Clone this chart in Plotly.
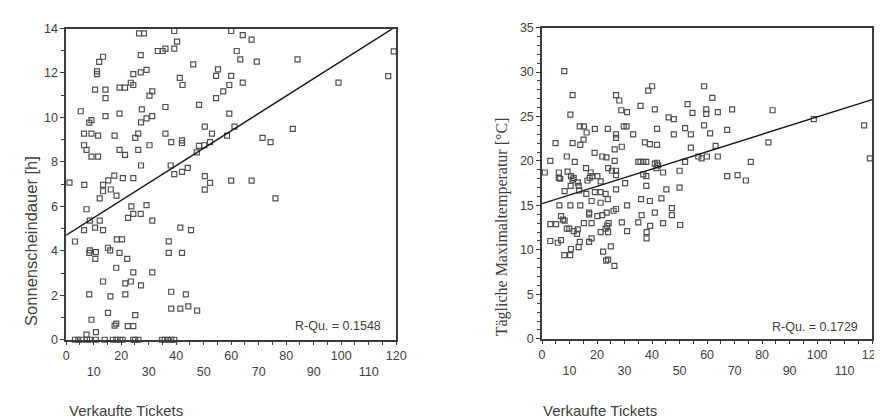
import plotly.graph_objects as go

W, H = 882, 419

# ---------------- data ----------------
left_x = [1.2, 5.3, 6.5, 6.5, 7.4, 9.2, 11.6, 8.4, 9.2, 9.2, 11.6, 6.6, 7.4, 11.2, 11.2, 12.0, 13.4, 10.5,
          14.3, 14.3, 14.3, 12.2, 13.4, 15.3, 17.5, 20.6, 24.4, 13.4, 16.2, 18.3, 17.6, 19.4, 19.4, 21.4,
          19.4, 21.4, 23.5, 24.4, 24.4, 26.5, 28.3, 27.1, 27.1, 29.2, 27.5, 27.2, 29.2, 31.3, 31.3, 30.3,
          25.1, 26.2, 26.2, 30.3, 27.2, 23.7, 29.2, 33.3, 35.1, 36.1, 39.3, 40.3, 39.3, 36.1, 36.1, 38.2,
          42.1, 42.1, 38.0, 39.3, 42.1, 44.2, 41.3, 42.3, 46.2, 47.5, 48.3, 50.4, 48.3, 50.4, 50.4,
          60.0, 64.2, 67.4, 62.0, 63.3, 69.3, 84.1, 55.2, 54.5, 60.0, 59.3, 57.1, 64.2, 54.5, 99.0, 59.3,
          53.0, 61.2, 58.5, 82.4, 71.4, 74.3, 50.2, 52.3, 52.3, 60.0, 67.4, 76.1, 117.1, 119.1,
          3.2, 4.4, 5.6, 7.6, 8.6, 10.8, 14.0, 17.0, 18.2, 19.6, 20.5, 24.4, 25.1, 26.3, 34.9, 35.8, 37.0,
          38.2, 39.3,
          3.2, 6.5, 8.6, 10.5, 12.2, 13.4, 8.6, 8.4, 10.8, 10.6, 15.2, 16.0, 18.4, 20.3, 19.4, 22.2, 13.4,
          18.2, 24.4, 31.3, 21.5, 23.5, 27.2, 8.4, 16.1, 21.5, 15.2, 25.1, 9.2, 18.2, 17.6, 22.4, 24.4,
          7.4, 10.8, 22.5, 24.4, 27.1, 31.3, 37.3, 37.3, 42.1, 41.5, 45.4, 38.2, 43.5, 38.2, 41.5, 44.4,
          47.6]
left_y = [7.07, 10.28, 9.27, 8.75, 8.54, 8.24, 8.24, 9.77, 9.88, 9.27, 9.18, 6.97, 5.87, 12.07, 11.95, 12.5,
          12.73, 11.25, 11.25, 10.87, 10.06, 6.36, 6.97, 7.17, 7.38, 7.27, 7.27, 6.68, 6.76, 6.48, 9.18,
          10.17, 8.54, 8.32, 11.34, 11.34, 11.56, 11.46, 11.95, 13.78, 13.78, 12.8, 12.03, 12.14, 10.36,
          9.78, 9.96, 10.06, 11.17, 10.98, 9.08, 9.27, 8.54, 8.75, 7.84, 6.0, 6.06, 12.99, 12.99, 13.1,
          13.89, 13.41, 13.1, 10.47, 9.27, 8.89, 8.97, 8.85, 7.84, 7.45, 7.55, 7.73, 11.78, 11.46, 12.39,
          8.43, 8.72, 9.59, 10.57, 7.36, 6.75,
          13.89, 13.7, 13.5, 12.99, 12.61, 12.51, 12.61, 12.16, 11.87, 11.87, 11.46, 11.17, 11.57, 10.87,
          11.57, 10.17, 9.27, 9.59, 9.18, 9.49, 9.08, 8.89, 8.75, 8.89, 7.06, 7.16, 7.16, 6.36, 11.86, 12.97,
          0, 0, 0, 0, 0, 0, 0, 0, 0, 0, 0, 0, 0, 0, 0, 0, 0, 0, 0,
          4.42, 4.93, 5.36, 5.04, 5.36, 4.93, 4.02, 3.91, 3.94, 3.64, 4.14, 4.02, 4.52, 4.52, 3.91, 3.64,
          2.62, 3.24, 3.03, 3.03, 2.54, 2.62, 2.45, 2.04, 1.95, 2.04, 1.21, 1.11, 0.9, 0.73, 0.64, 0.61,
          0.61, 0.23, 0.34, 5.48, 5.66, 5.66, 5.36, 4.43, 3.91, 3.91, 5.04, 4.93, 2.16, 2.04, 1.4, 1.4,
          1.5, 1.31]

right_x = [8.1, 11.1, 10.3, 4.9, 11.1, 13.9, 15.1, 13.7, 15.2, 16.2, 19.2, 23.9, 26.9, 28.1, 28.8, 30.9,
           29.7, 30.7, 33.1, 26.9, 26.9, 35.8, 38.6, 40.0, 41.0, 41.8, 37.4, 39.2, 41.8, 46.0, 1.0, 3.0,
           9.0, 11.9, 19.1, 21.9, 23.4, 29.0, 26.4, 6.1, 6.1, 6.6, 9.3, 10.5, 11.5, 11.1, 13.0, 13.3, 13.5,
           10.4, 8.2, 16.0, 17.7, 18.3, 17.3, 20.1, 16.5, 24.0, 25.4, 26.9, 26.9, 26.4, 21.3, 16.1, 19.2,
           21.3, 23.1, 23.9, 18.0, 21.3, 26.9, 30.2, 35.0, 35.8, 36.8, 37.9, 36.8, 37.9, 37.9, 41.0, 41.8,
           42.2, 41.6, 44.0, 45.2, 36.0, 39.2, 43.4, 6.3, 10.3, 13.9, 17.1, 17.1, 20.1, 23.5, 26.0, 26.9,
           30.9, 36.2, 41.0,
           3.0, 5.7, 6.9, 8.1, 10.2, 10.5, 13.3, 13.7, 17.1, 18.0, 3.0, 5.1, 6.9, 7.6, 8.2, 9.0, 9.9, 11.5,
           13.0, 12.7, 15.2, 18.0, 21.9, 21.3, 23.7, 24.2, 24.0, 23.1, 22.2, 25.0, 23.3, 24.0, 26.3, 29.0,
           30.9, 35.0, 38.0, 38.0, 39.3, 44.0,
           58.9, 61.9, 52.9, 54.7, 59.7, 59.7, 63.9, 69.1, 83.8, 47.9, 52.0, 54.1, 47.9, 58.9, 61.1, 67.3,
           82.3, 98.8, 117.1, 119.2, 54.1, 63.1, 56.8, 58.0, 59.9, 63.9, 52.0, 75.9, 50.0, 67.3, 71.1, 74.1,
           50.0, 47.2, 47.2, 50.2]
right_y = [30.1, 27.4, 25.2, 22.0, 22.0, 21.8, 22.4, 23.9, 23.9, 23.2, 23.6, 23.6, 27.4, 26.8, 25.7, 25.5,
           23.9, 23.9, 23.0, 23.0, 22.6, 26.2, 27.9, 28.4, 25.8, 23.6, 22.1, 21.9, 21.8, 24.9, 18.7, 20.0,
           20.5, 19.9, 20.9, 20.5, 20.4, 21.6, 21.3, 18.7, 18.1, 18.0, 18.8, 18.3, 18.1, 17.9, 17.6, 17.2,
           16.7, 17.2, 16.6, 19.2, 18.7, 18.3, 18.1, 18.3, 17.8, 19.2, 18.9, 18.9, 18.4, 20.0, 17.7, 16.3,
           16.5, 16.5, 16.3, 15.7, 15.5, 15.3, 16.8, 17.5, 19.9, 19.9, 19.9, 19.9, 18.5, 18.3, 17.2, 19.7,
           19.8, 19.5, 19.2, 18.7, 16.8, 15.7, 15.5, 15.8, 15.0, 15.0, 15.0, 14.2, 14.0, 13.8, 14.2, 14.4,
           14.6, 15.0, 13.9, 14.2,
           11.0, 10.8, 11.1, 9.4, 9.4, 10.1, 10.3, 10.9, 10.9, 11.3, 12.9, 12.9, 13.8, 13.4, 13.3, 12.4,
           12.4, 12.1, 12.3, 11.8, 13.0, 13.0, 13.9, 12.0, 12.7, 13.0, 12.0, 12.4, 9.8, 10.4, 8.8, 8.9, 8.2,
           13.1, 12.1, 13.1, 12.0, 11.3, 12.7, 13.0,
           28.4, 27.1, 26.4, 25.4, 25.8, 25.3, 25.5, 25.8, 25.7, 24.7, 23.7, 23.0, 23.0, 24.0, 23.1, 23.5,
           22.1, 24.7, 24.0, 20.3, 21.5, 21.7, 20.5, 20.3, 20.5, 20.5, 19.9, 19.9, 18.9, 18.3, 18.4, 17.8,
           17.0, 14.7, 13.9, 12.8]

fit_x = [0, 120]
left_fit_y = [4.7, 14.1]
right_fit_y = [15.2, 26.9]
left_r2 = "R-Qu. = 0.1548"
right_r2 = "R-Qu. = 0.1729"

x_ticks_upper = [0, 20, 40, 60, 80, 100, 120]
x_ticks_lower = [10, 30, 50, 70, 90, 110]
left_y_ticks = [0, 2, 4, 6, 8, 10, 12, 14]
right_y_ticks = [0, 5, 10, 15, 20, 25, 30, 35]

x_title = "Verkaufte Tickets"
left_y_title = "Sonnenscheindauer [h]"
right_y_title = "Tägliche Maximaltemperatur [°C]"

# ---------------- figure ----------------
SANS = "Liberation Sans, Arial, sans-serif"
SERIF = "Liberation Serif, Times New Roman, serif"
TXT = "#404040"
AX = "#3a3a3a"

marker = dict(symbol="square-open", size=5, color="#505050", line=dict(width=1.2, color="#505050"))

fig = go.Figure()
fig.add_trace(go.Scatter(x=left_x, y=left_y, mode="markers", marker=marker, xaxis="x", yaxis="y",
                         cliponaxis=False, showlegend=False))
fig.add_trace(go.Scatter(x=fit_x, y=left_fit_y, mode="lines", line=dict(color="#151515", width=1.4),
                         xaxis="x", yaxis="y", showlegend=False))
fig.add_trace(go.Scatter(x=right_x, y=right_y, mode="markers", marker=marker, xaxis="x2", yaxis="y2",
                         cliponaxis=False, showlegend=False))
fig.add_trace(go.Scatter(x=fit_x, y=right_fit_y, mode="lines", line=dict(color="#151515", width=1.4),
                         xaxis="x2", yaxis="y2", showlegend=False))
# invisible traces so the lower-row label axes are drawn
fig.add_trace(go.Scatter(x=[None], y=[None], xaxis="x3", yaxis="y", showlegend=False, hoverinfo="skip"))
fig.add_trace(go.Scatter(x=[None], y=[None], xaxis="x4", yaxis="y2", showlegend=False, hoverinfo="skip"))

tickfont = dict(family=SANS, size=12.5, color=TXT)

def xaxis_main(domain, anchor):
    return dict(domain=domain, anchor=anchor, range=[0, 120], tickvals=x_ticks_upper,
                ticks="outside", ticklen=3, tickwidth=1.3, tickcolor=AX,
                minor=dict(dtick=5, ticks="outside", ticklen=3, tickwidth=1.3, tickcolor=AX, showgrid=False),
                showline=True, linecolor=AX, linewidth=1.5, mirror=True,
                showgrid=False, zeroline=False, tickfont=tickfont, fixedrange=True)

def xaxis_lower(over, anchor):
    return dict(overlaying=over, anchor=anchor, range=[0, 120], tickvals=x_ticks_lower,
                ticks="", showline=False, showgrid=False, zeroline=False,
                ticklabelstandoff=23, tickfont=tickfont, side="bottom", fixedrange=True)

def yaxis_main(domain, anchor, rng, tickvals):
    return dict(domain=domain, anchor=anchor, range=rng, tickvals=tickvals,
                ticks="outside", ticklen=4, tickwidth=1.3, tickcolor=AX,
                minor=dict(dtick=1, ticks="outside", ticklen=3, tickwidth=1.2, tickcolor=AX, showgrid=False),
                showline=True, linecolor=AX, linewidth=1.5, mirror=True,
                showgrid=False, zeroline=False, tickfont=tickfont, fixedrange=True)

L_dom = [56 / W, 391 / W]
R_dom = [539 / W, 874 / W]
L_ydom = [(H - 336) / H, (H - 14) / H]
R_ydom = [(H - 335) / H, (H - 13) / H]

annotations = [
    dict(text=x_title, x=117 / W, y=1 - 409 / H, xref="paper", yref="paper", showarrow=False,
         font=dict(family=SANS, size=15, color=TXT), xanchor="center", yanchor="middle"),
    dict(text=x_title, x=598 / W, y=1 - 409 / H, xref="paper", yref="paper", showarrow=False,
         font=dict(family=SANS, size=15, color=TXT), xanchor="center", yanchor="middle"),
    dict(text=left_y_title, x=20 / W, y=1 - 234 / H, xref="paper", yref="paper", showarrow=False,
         textangle=-90, font=dict(family=SANS, size=16.5, color=TXT), xanchor="center", yanchor="middle"),
    dict(text=right_y_title, x=498 / W, y=1 - 219 / H, xref="paper", yref="paper", showarrow=False,
         textangle=-90, font=dict(family=SERIF, size=16, color=TXT), xanchor="center", yanchor="middle"),
    dict(text=left_r2, x=378 / W, y=1 - 322 / H, xref="paper", yref="paper", showarrow=False,
         font=dict(family=SANS, size=12.5, color=TXT), xanchor="right", yanchor="middle"),
    dict(text=right_r2, x=862 / W, y=1 - 323 / H, xref="paper", yref="paper", showarrow=False,
         font=dict(family=SANS, size=12.5, color=TXT), xanchor="right", yanchor="middle"),
]

fig.update_layout(
    width=W, height=H, autosize=False,
    margin=dict(l=0, r=0, t=0, b=0),
    paper_bgcolor="white", plot_bgcolor="white",
    showlegend=False,
    xaxis=xaxis_main(L_dom, "y"),
    xaxis3=xaxis_lower("x", "y"),
    yaxis=yaxis_main(L_ydom, "x", [0, 14], left_y_ticks),
    xaxis2=xaxis_main(R_dom, "y2"),
    xaxis4=xaxis_lower("x2", "y2"),
    yaxis2=yaxis_main(R_ydom, "x2", [0, 35], right_y_ticks),
    annotations=annotations,
)

fig.write_html("out.html")
